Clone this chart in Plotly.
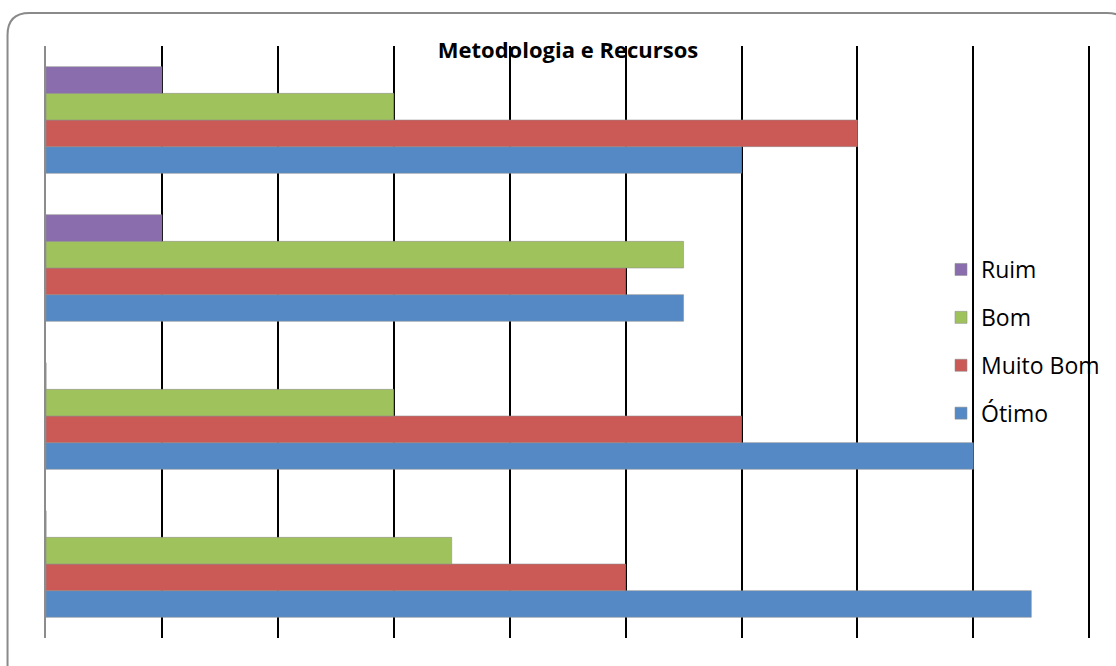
import plotly.graph_objects as go

# Survey groups, listed bottom to top as they appear on the chart
categories = ["Grupo 1", "Grupo 2", "Grupo 3", "Grupo 4"]

otimo = [17, 16, 11, 12]
muito_bom = [10, 12, 10, 14]
bom = [7, 6, 11, 6]
ruim = [0, 0, 2, 2]

# (name, values, colour, legend position)
series = [
    ("Ótimo", otimo, "#5589C6", 4),
    ("Muito Bom", muito_bom, "#CB5A56", 3),
    ("Bom", bom, "#A0C25C", 2),
    ("Ruim", ruim, "#8A6DAD", 1),
]

W, H = 1116, 666
L, R, T, B = 46, 24, 46, 28

fig = go.Figure()
for name, vals, color, rank in series:
    fig.add_trace(go.Bar(
        y=categories, x=vals, name=name, orientation="h",
        marker=dict(color=color, line=dict(color="rgba(140,140,140,0.7)", width=0.8)),
        legendgroup=name, legendrank=rank,
    ))

# Rounded frame around the whole chart (pixel coords converted to paper space)
pw, ph = W - L - R, H - T - B
def px(x):
    return (x - L) / pw
def py(y):
    return 1 - (y - T) / ph

r = 22
x0, y0, x1, y1 = 7.5, 13, 1130, 690
frame = (
    f"M {px(x0)},{py(y1 - r)} L {px(x0)},{py(y0 + r)} "
    f"Q {px(x0)},{py(y0)} {px(x0 + r)},{py(y0)} "
    f"L {px(x1 - r)},{py(y0)} Q {px(x1)},{py(y0)} {px(x1)},{py(y0 + r)} "
    f"L {px(x1)},{py(y1 - r)} Q {px(x1)},{py(y1)} {px(x1 - r)},{py(y1)} "
    f"L {px(x0 + r)},{py(y1)} Q {px(x0)},{py(y1)} {px(x0)},{py(y1 - r)} Z"
)

fig.update_layout(
    width=W, height=H,
    margin=dict(l=L, r=R, t=T, b=B),
    paper_bgcolor="white", plot_bgcolor="white",
    barmode="group", bargap=0.28, bargroupgap=0,
    font=dict(family="'Open Sans', Lato, sans-serif", color="black"),
    title=dict(
        text="<b>Metodologia e Recursos</b>",
        font=dict(size=22, family="'Open Sans', Lato, sans-serif", color="black"),
        x=568 / W, xanchor="center",
        y=1 - 50 / H, yanchor="middle",
    ),
    xaxis=dict(
        range=[0, 18.03], tick0=0, dtick=2, showgrid=True, gridcolor="black", gridwidth=2,
        showticklabels=False, zeroline=False, showline=False, ticks="",
    ),
    yaxis=dict(
        showticklabels=False, showgrid=False, zeroline=False,
        showline=True, linecolor="#8c8c8c", linewidth=2, ticks="",
    ),
    legend=dict(
        x=px(941), y=py(248), xanchor="left", yanchor="top",
        traceorder="grouped", tracegroupgap=15,
        bgcolor="rgba(0,0,0,0)", font=dict(size=23),
    ),
    shapes=[dict(
        type="path", path=frame, xref="paper", yref="paper",
        line=dict(color="#8a8a8a", width=2), fillcolor="rgba(0,0,0,0)",
        layer="above",
    )],
    showlegend=True,
)

fig.write_html("out.html")
